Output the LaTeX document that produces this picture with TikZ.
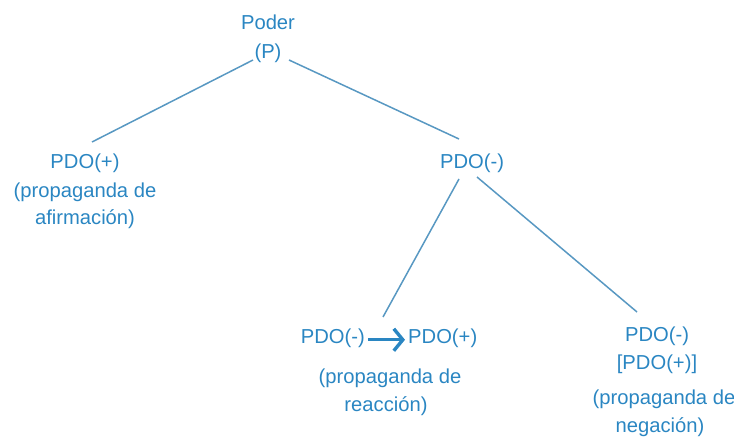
\documentclass[tikz,border=0pt]{standalone}
\usepackage{fontspec}
\setmainfont{Liberation Sans}
\usetikzlibrary{arrows.meta}
\definecolor{txtblue}{RGB}{42,134,194}
\definecolor{lnblue}{RGB}{88,152,194}
\tikzset{
  lbl/.style={text=txtblue, font=\fontsize{20.2}{26}\selectfont, anchor=base, inner sep=0pt},
  conn/.style={draw=lnblue, line width=1.5pt},
  bigarrow/.style={draw=txtblue, line width=3.4pt, -{Straight Barb[length=9pt,width=22pt,line width=3.4pt]}}
}
\begin{document}
\begin{tikzpicture}[x=1pt,y=-1pt]
\useasboundingbox (0,0) rectangle (734,438);
% root
\node[lbl] (poder) at (268,29.5) {Poder};
\node[lbl] (P) at (268,59) {(P)};
% left
\node[lbl] (plus) at (85,169) {PDO(+)};
\node[lbl] (propA) at (85,198) {(propaganda de};
\node[lbl] (afirm) at (85,225) {afirmación)};
% right
\node[lbl] (minus) at (472,169) {PDO(-)};
% bottom middle
\node[lbl, anchor=base east] (m1) at (365,344) {PDO(-)};
\node[lbl, anchor=base west] (m2) at (408,344) {PDO(+)};
\node[lbl] (propR) at (390,384) {(propaganda de};
\node[lbl] (reac) at (386,412) {reacción)};
% bottom right
\node[lbl] (r1) at (657,342) {PDO(-)};
\node[lbl] (r2) at (657,370) {[PDO(+)]};
\node[lbl] (propN) at (664,405) {(propaganda de};
\node[lbl] (negac) at (660,432) {negación)};
% connector ends
\coordinate (a1) at (253,60);
\coordinate (a2) at (92,142);
\coordinate (b1) at (289,60);
\coordinate (b2) at (459,139);
\coordinate (c1) at (459,179);
\coordinate (c2) at (383,317);
\coordinate (d1) at (477,177);
\coordinate (d2) at (637,312);
\draw[conn] (a1) -- (a2);
\draw[conn] (b1) -- (b2);
\draw[conn] (c1) -- (c2);
\draw[conn] (d1) -- (d2);
\draw[bigarrow] ([xshift=3pt,yshift=-1pt]m1.east) -- ([xshift=-3pt,yshift=-1pt]m2.west);
\end{tikzpicture}
\end{document}
